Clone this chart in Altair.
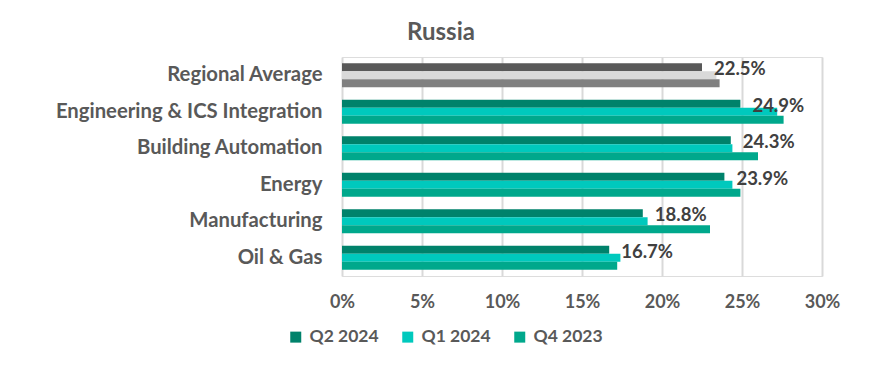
import altair as alt
import pandas as pd

categories = ["Regional Average", "Engineering & ICS Integration", "Building Automation",
              "Energy", "Manufacturing", "Oil & Gas"]
series = ["Q2 2024", "Q1 2024", "Q4 2023"]
q2_2024 = [22.5, 24.9, 24.3, 23.9, 18.8, 16.7]
q1_2024 = [23.4, 27.2, 24.4, 24.4, 19.1, 17.4]
q4_2023 = [23.6, 27.6, 26.0, 24.9, 23.0, 17.2]

rows = []
for i, c in enumerate(categories):
    for s, vals in zip(series, [q2_2024, q1_2024, q4_2023]):
        rows.append({"category": c, "series": s, "value": vals[i] / 100.0})
df = pd.DataFrame(rows)

FONT = "Lato"
teal = ["#00826B", "#00C9BD", "#00A88C"]
gray = ["#595959", "#D9D9D9", "#808080"]

y_enc = alt.Y("category:N", sort=categories, title=None,
              scale=alt.Scale(paddingInner=0.345, paddingOuter=0.1725),
              axis=alt.Axis(labelFont=FONT, labelFontSize=20.3, labelFontWeight="bold",
                            labelColor="#595959", labelPadding=20, ticks=False,
                            domain=False, labelLimit=500))
x_enc = alt.X("value:Q", title=None,
              scale=alt.Scale(domain=[0, 0.30], nice=False),
              axis=alt.Axis(format=".0%", values=[0, 0.05, 0.10, 0.15, 0.20, 0.25, 0.30],
                            labelFont=FONT, labelFontSize=18, labelFontWeight="bold",
                            labelColor="#595959", labelPadding=17, labelFlush=False,
                            ticks=False, domain=False,
                            grid=True, gridColor="#D9D9D9", gridWidth=2))
yoff = alt.YOffset("series:N", sort=series, scale=alt.Scale(paddingInner=0, paddingOuter=0))

base = alt.Chart(df).encode(y=y_enc, x=x_enc, yOffset=yoff)

bars_main = base.transform_filter(alt.datum.category != "Regional Average").mark_bar().encode(
    color=alt.Color("series:N", sort=series,
                    scale=alt.Scale(domain=series, range=teal),
                    legend=alt.Legend(title=None, orient="none", direction="horizontal",
                                      legendX=-55, legendY=271,
                                      symbolType="square", symbolSize=121, symbolStrokeWidth=0,
                                      labelFont=FONT, labelFontSize=17.5, labelFontWeight="bold",
                                      labelColor="#595959", labelOffset=5, columnPadding=20))
)
bars_ra = base.transform_filter(alt.datum.category == "Regional Average").mark_bar().encode(
    color=alt.Color("series:N", sort=series,
                    scale=alt.Scale(domain=series, range=gray), legend=None)
)
labels = base.transform_filter(alt.datum.series == "Q2 2024").mark_text(
    align="left", baseline="middle", dx=12, dy=2, font=FONT, fontSize=18.5,
    fontWeight="bold", color="#404040"
).encode(text=alt.Text("value:Q", format=".1%"))

chart = alt.layer(bars_main, bars_ra, labels).resolve_scale(color="independent").properties(
    width=480, height=219,
    autosize=alt.AutoSizeParams(type="none"),
    padding={"left": 334, "top": 49, "right": 53, "bottom": 80},
    title=alt.TitleParams("Russia", font=FONT, fontSize=24, fontWeight="bold",
                          color="#595959", anchor="middle", frame="group", dx=-141, offset=12)
).configure_view(stroke=None).configure(background="white")

chart.save("out.html", embed_options={"renderer": "svg", "actions": False})
